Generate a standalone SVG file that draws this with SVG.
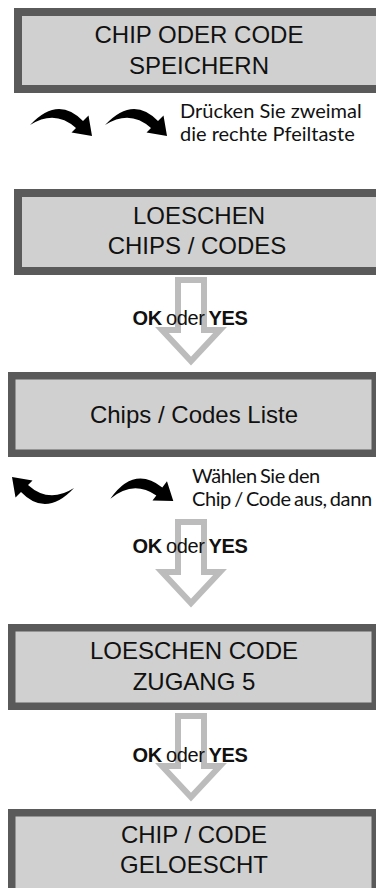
<svg xmlns="http://www.w3.org/2000/svg" width="376" height="888" viewBox="0 0 376 888">
<style>
.box{fill:#d0d0d0;stroke:#5a5a5a;stroke-width:8}
.box2{fill:#d0d0d0;stroke:#5a5a5a;stroke-width:7.5}
.t{font-family:"Liberation Sans",Arial,sans-serif;font-size:24px;fill:#111;text-anchor:middle}
.hint{font-family:Lato,"Open Sans",sans-serif;font-size:20px;fill:#111}
.ok{font-family:"Liberation Sans",Arial,sans-serif;font-size:20px;fill:#111;text-anchor:middle;letter-spacing:-0.4px;word-spacing:-1px}
.blk{fill:none;stroke:#bcbcbc;stroke-width:6;stroke-linejoin:miter}
.cur{fill:#000}
</style>
<defs>
<path id="curve" class="cur" d="M0,17 Q28,-13 53,13 L58.5,7.5 L62,28 L41.5,24.5 L46,20 Q25,1 0,17 Z"/>
<path id="block" class="blk" d="M178,3 L204,3 L204,53 L220,53 L191,84 L162,53 L178,53 Z"/>
</defs>

<g id="node1">
<rect class="box" x="18" y="12" width="380" height="77"/>
<text class="t" x="199" y="43">CHIP ODER CODE</text>
<text class="t" x="199" y="74">SPEICHERN</text>
</g>

<g id="hint1">
<text class="hint" x="180" y="118">Drücken Sie zweimal</text>
<text class="hint" x="180" y="141">die rechte Pfeiltaste</text>
</g>

<g id="node2">
<rect class="box" x="18" y="193" width="380" height="78"/>
<text class="t" x="199" y="224">LOESCHEN</text>
<text class="t" x="197" y="254">CHIPS / CODES</text>
</g>

<g id="node3">
<rect class="box2" x="11.75" y="375.75" width="363.5" height="77.5"/>
<text class="t" x="194" y="423">Chips / Codes Liste</text>
</g>

<g id="hint2">
<text class="hint" x="192" y="483" letter-spacing="-0.4" word-spacing="-1.5">Wählen Sie den</text>
<text class="hint" x="192" y="506" letter-spacing="-0.4" word-spacing="-1.5">Chip / Code aus, dann</text>
</g>

<g id="node4">
<rect class="box2" x="11.75" y="627.75" width="363.5" height="78.5"/>
<text class="t" x="194" y="659">LOESCHEN CODE</text>
<text class="t" x="194" y="690">ZUGANG 5</text>
</g>

<g id="node5">
<rect class="box2" x="11.75" y="812.75" width="363.5" height="100"/>
<text class="t" x="194" y="843">CHIP / CODE</text>
<text class="t" x="194" y="873">GELOESCHT</text>
</g>

<g id="connectors">
<use href="#curve" transform="translate(30,108)"/>
<use href="#curve" transform="translate(105,108)"/>
<use href="#curve" transform="translate(74,505) rotate(180)"/>
<use href="#curve" transform="translate(108,482) rotate(-8)"/>
<use href="#block" transform="translate(0,277)"/>
<use href="#block" transform="translate(0,519)"/>
<use href="#block" transform="translate(0,713)"/>
<text class="ok" x="190" y="325"><tspan font-weight="bold">OK</tspan> oder <tspan font-weight="bold">YES</tspan></text>
<text class="ok" x="190" y="553"><tspan font-weight="bold">OK</tspan> oder <tspan font-weight="bold">YES</tspan></text>
<text class="ok" x="190" y="762"><tspan font-weight="bold">OK</tspan> oder <tspan font-weight="bold">YES</tspan></text>
</g>
</svg>
